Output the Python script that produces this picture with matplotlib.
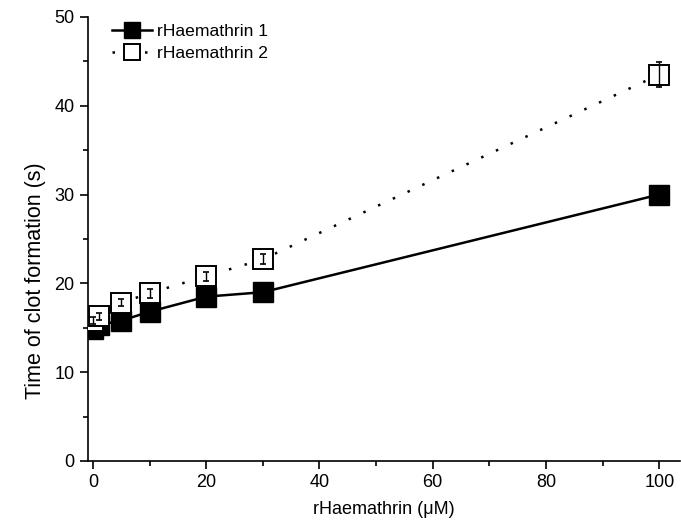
import matplotlib
matplotlib.use("Agg")
import matplotlib.pyplot as plt
from matplotlib.ticker import MultipleLocator

plt.rcParams['font.family'] = ['Liberation Sans', 'DejaVu Sans']

conc = [0, 1, 5, 10, 20, 30, 100]
s1 = [14.9, 15.3, 15.8, 16.8, 18.5, 19.0, 30.0]
s1_err = [0.3, 0.3, 0.3, 0.4, 0.4, 0.4, 0.5]
s2 = [15.8, 16.3, 17.8, 18.9, 20.8, 22.7, 43.5]
s2_err = [0.4, 0.4, 0.4, 0.5, 0.5, 0.55, 1.4]
labels = ['rHaemathrin 1', 'rHaemathrin 2']

fig = plt.figure(figsize=(6.81, 5.28), dpi=100)
ax = fig.add_axes([0.129, 0.127, 0.869, 0.841])

ax.plot(conc, s1, '-', color='black', lw=1.8, marker='s', ms=14.5,
        mfc='black', mec='black', label=labels[0], zorder=3)
ax.errorbar(conc, s1, yerr=s1_err, fmt='none', ecolor='black', elinewidth=1,
            capsize=2.5, zorder=2)
ax.plot(conc, s2, linestyle=(0, (1, 5.5)), color='black', lw=1.8, marker='s', ms=14.5,
        mfc='white', mec='black', mew=1.4, label=labels[1], zorder=4)
ax.errorbar(conc, s2, yerr=s2_err, fmt='none', ecolor='black', elinewidth=1,
            capsize=2.5, capthick=1.2, zorder=5)

ax.set_xlim(-0.9, 103.6)
ax.set_ylim(0, 50)
ax.xaxis.set_major_locator(MultipleLocator(20))
ax.xaxis.set_minor_locator(MultipleLocator(10))
ax.yaxis.set_major_locator(MultipleLocator(10))
ax.yaxis.set_minor_locator(MultipleLocator(5))
ax.spines['top'].set_visible(False)
ax.spines['right'].set_visible(False)
for sp in ['left', 'bottom']:
    ax.spines[sp].set_linewidth(1.2)
ax.tick_params(which='major', direction='out', length=6, width=1.2, labelsize=13)
ax.tick_params(which='minor', direction='out', length=3.5, width=1.2)

ax.set_xlabel('rHaemathrin (\u03bcM)', fontsize=13, labelpad=7)
ax.set_ylabel('Time of clot formation (s)', fontsize=15.5)
ax.yaxis.set_label_coords(-0.07, 0.405)

leg = fig.legend(loc='upper left', bbox_to_anchor=(0.154, 0.968), frameon=False,
                 fontsize=12.6, handlelength=2.3, handletextpad=0.3,
                 labelspacing=0.4, markerscale=0.75, borderaxespad=0)

fig.savefig('out.png', dpi=100)
